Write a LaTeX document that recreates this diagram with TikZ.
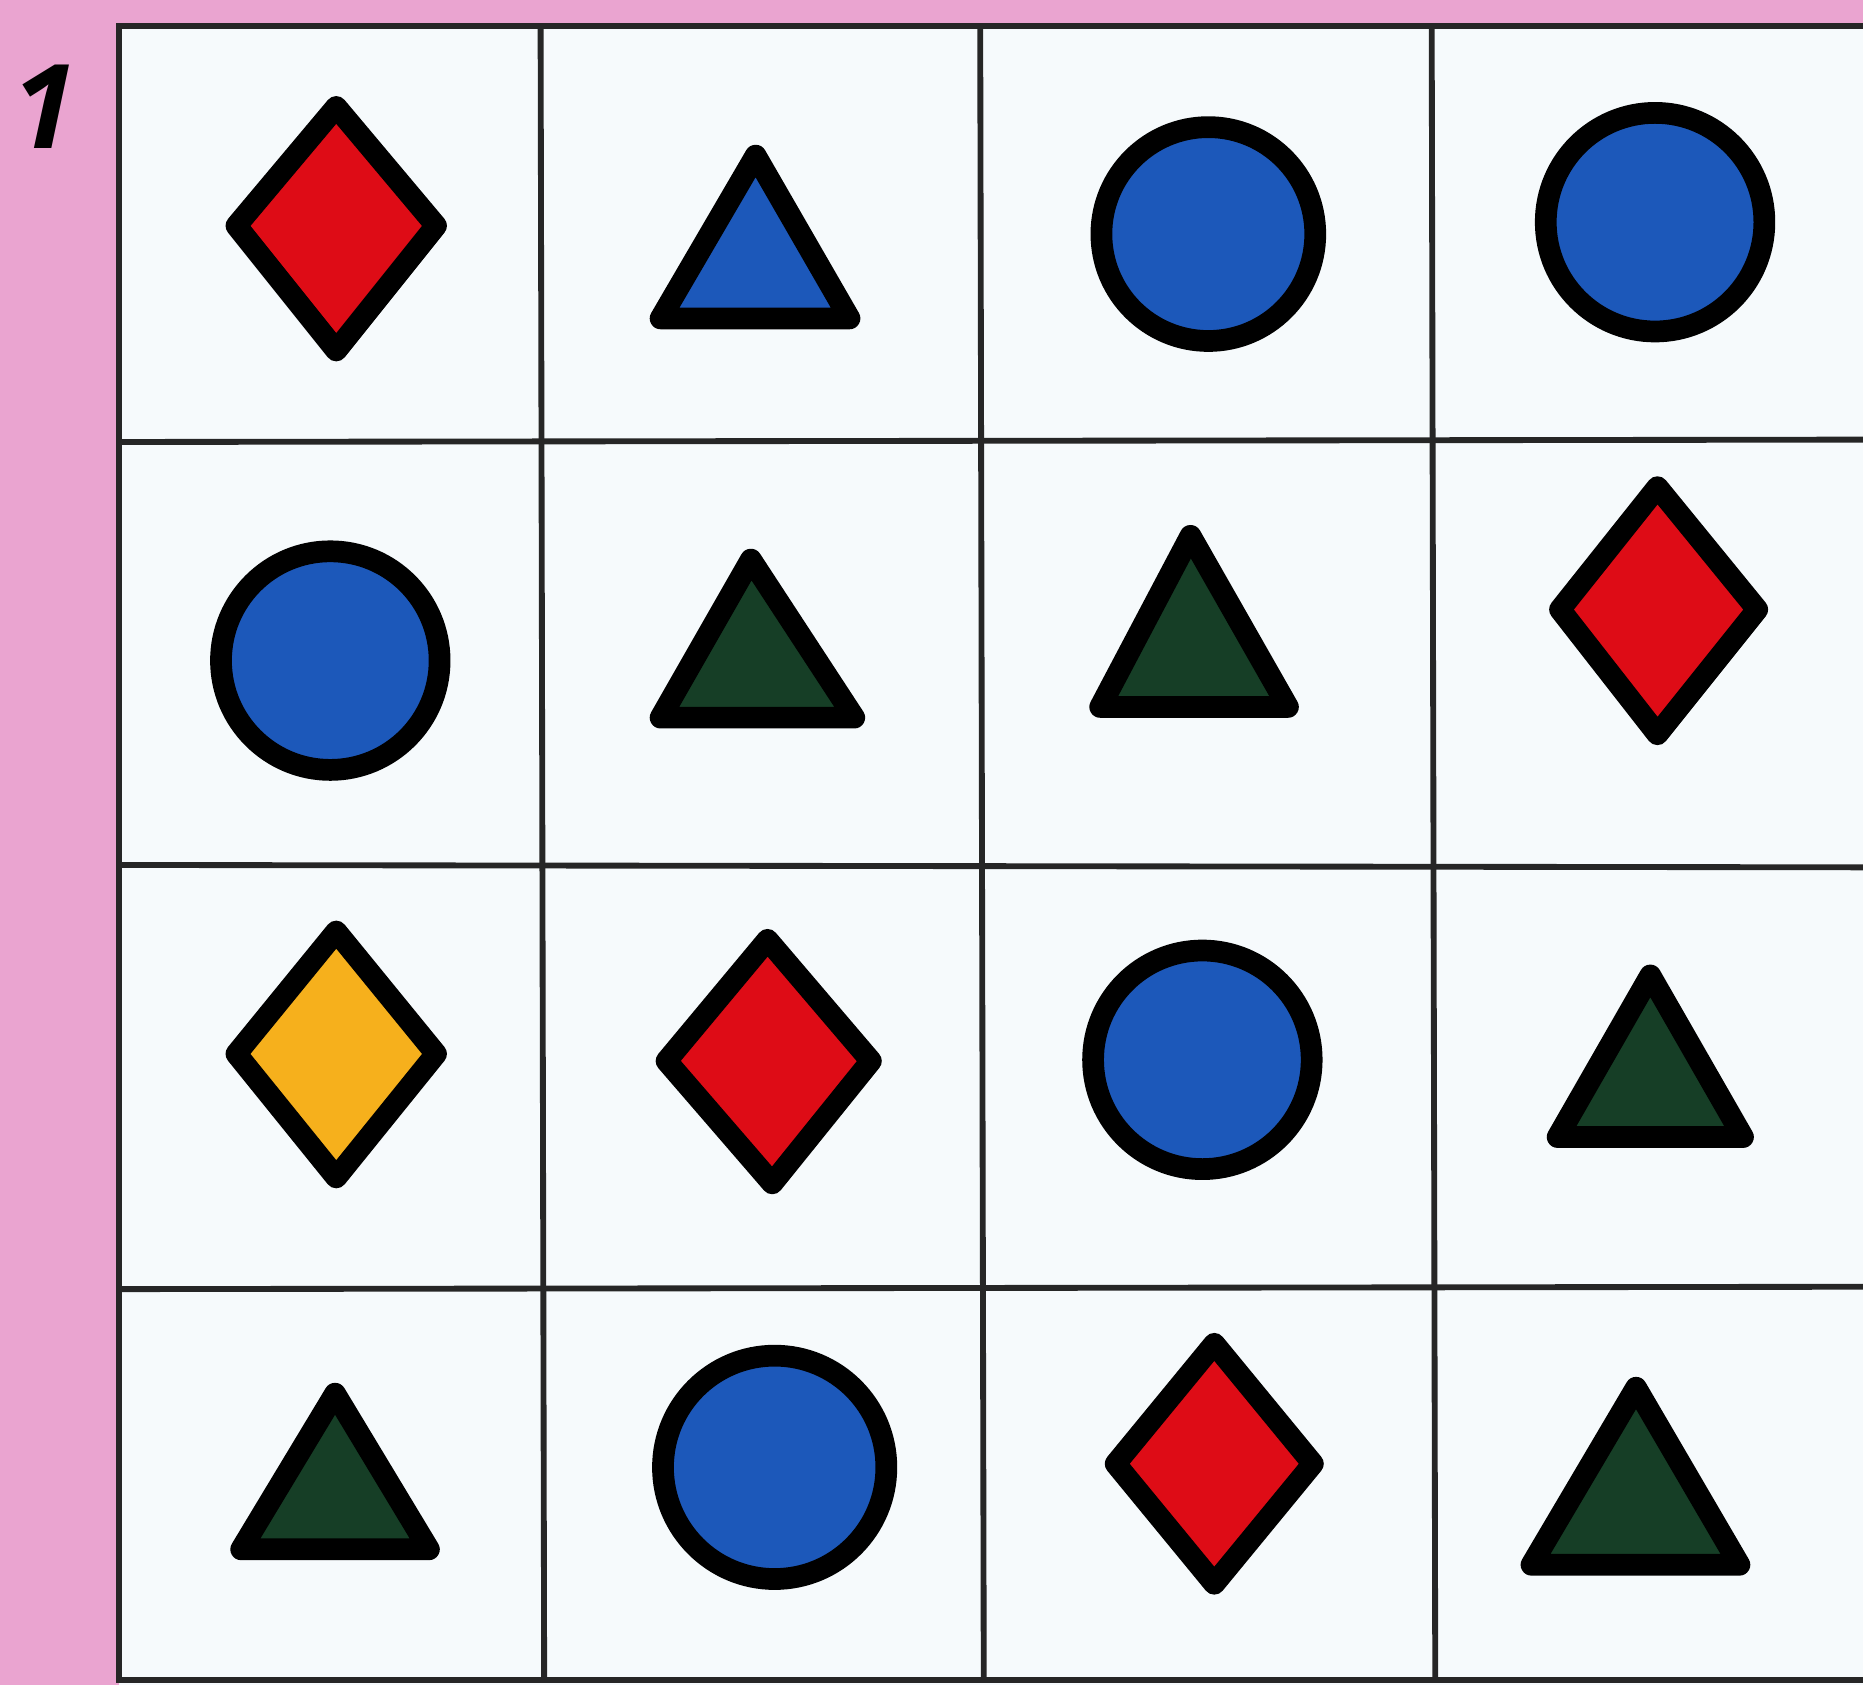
\documentclass[tikz,border=0pt]{standalone}
\usepackage{fontspec}
\newfontfamily\numfont{Open Sans}
\definecolor{pinkbg}{RGB}{234,164,208}
\definecolor{cellwhite}{RGB}{246,250,252}
\definecolor{cardred}{RGB}{222,12,22}
\definecolor{cardblue}{RGB}{28,88,186}
\definecolor{cardgreen}{RGB}{22,62,38}
\definecolor{cardyellow}{RGB}{246,176,28}
\begin{document}
\begin{tikzpicture}[x=0.01cm,y=-0.01cm,
  gridline/.style={line width=1.4pt,black!85},
  figline/.style={line width=5.2pt,black,line join=round},
  redfig/.style={figline,fill=cardred},
  bluefig/.style={figline,fill=cardblue},
  greenfig/.style={figline,fill=cardgreen},
  yellowfig/.style={figline,fill=cardyellow}]
\fill[pinkbg] (0,0) rectangle (1568,1418);
\useasboundingbox (0,0) rectangle (1568,1418);
\fill[cellwhite] (100,22) rectangle (1568,1418);
% grid
\draw[gridline] (1568,22) -- (100,22) -- (100,1414) -- (1568,1414);
\draw[gridline] (455,22) -- (458,1414);
\draw[gridline] (825,22) -- (828,1414);
\draw[gridline] (1205,22) -- (1208,1414);
\draw[gridline] (100,372) -- (1568,370);
\draw[gridline] (100,728) -- (1568,730);
\draw[gridline] (100,1085) -- (1568,1083);
\node[font=\numfont\bfseries\itshape\fontsize{28}{28}\selectfont,inner sep=0pt] (num) at (38,90) {1};
% row 1
\draw[redfig] (283,90) -- (367,190) -- (283,295) -- (199,190) -- cycle;
\draw[bluefig] (636,131) -- (715,268) -- (556,268) -- cycle;
\draw[bluefig] (1017,197) circle (90);
\draw[bluefig] (1393,187) circle (92);
% row 2
\draw[bluefig] (278,556) circle (92);
\draw[greenfig] (632,471) -- (719,604) -- (556,604) -- cycle;
\draw[greenfig] (1002,451) -- (1084,595) -- (926,595) -- cycle;
\draw[redfig] (1395,410) -- (1479,513) -- (1395,618) -- (1313,513) -- cycle;
% row 3
\draw[yellowfig] (283,784) -- (367,887) -- (283,991) -- (199,887) -- cycle;
\draw[redfig] (646,791) -- (733,893) -- (650,996) -- (561,893) -- cycle;
\draw[bluefig] (1012,892) circle (92);
\draw[greenfig] (1389,821) -- (1467,957) -- (1311,957) -- cycle;
% row 4
\draw[greenfig] (282,1173) -- (361,1304) -- (203,1304) -- cycle;
\draw[bluefig] (652,1235) circle (94);
\draw[redfig] (1022,1131) -- (1105,1232) -- (1022,1333) -- (939,1232) -- cycle;
\draw[greenfig] (1377,1168) -- (1464,1317) -- (1289,1317) -- cycle;
\end{tikzpicture}
\end{document}
